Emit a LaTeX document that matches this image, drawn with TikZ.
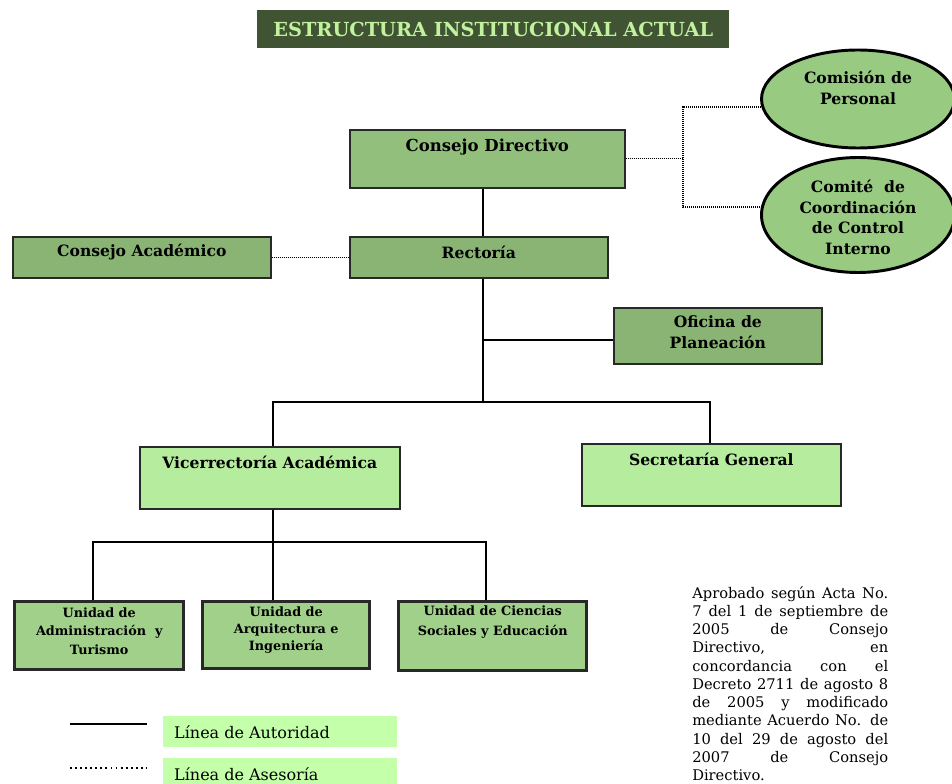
\documentclass[tikz,border=0pt]{standalone}
\usepackage{fontspec}
\setmainfont{DejaVu Serif}
\usetikzlibrary{shapes.geometric}
\definecolor{titlebg}{RGB}{64,84,52}
\definecolor{titlefg}{RGB}{194,242,158}
\definecolor{cdfill}{RGB}{146,192,124}
\definecolor{midfill}{RGB}{138,180,116}
\definecolor{ellfill}{RGB}{152,202,130}
\definecolor{lightfill}{RGB}{182,236,158}
\definecolor{unitfill}{RGB}{160,208,138}
\definecolor{legfill}{RGB}{196,255,170}
\definecolor{edge}{RGB}{40,40,40}
\hbadness=10000
\begin{document}
\begin{tikzpicture}[x=0.75pt,y=-0.75pt,
  orgbox/.style={draw=edge, line width=1.2pt, anchor=north west, inner sep=0pt},
  unitbox/.style={draw=edge, line width=2.6pt, fill=unitfill, anchor=north west, inner sep=0pt},
  oval/.style={ellipse, draw=black, line width=2.2pt, fill=ellfill, inner sep=0pt},
  boxtxt/.style={font=\bfseries\fontsize{11.7}{15.5}\selectfont, align=center, anchor=center, inner sep=0pt},
  unittxt/.style={font=\bfseries\fontsize{9.6}{14.2}\selectfont, align=center, anchor=center, inner sep=0pt},
  legtxt/.style={font=\fontsize{12}{14}\selectfont, anchor=west, inner sep=0pt},
  authority/.style={draw=black, line width=1.1pt},
  advice/.style={draw=black, line width=0.8pt, dash pattern=on 0.8pt off 0.7pt},
]
\useasboundingbox (0,0) rectangle (952,784);

% title
\node[fill=titlebg, anchor=north west, minimum width=472*0.75pt, minimum height=38*0.75pt, inner sep=0pt,
      text=titlefg, font=\bfseries\fontsize{14.5}{16}\selectfont] (title) at (257,10) {ESTRUCTURA INSTITUCIONAL ACTUAL};

% boxes
\node[orgbox, fill=cdfill, minimum width=275*0.75pt, minimum height=58*0.75pt,
      label={[boxtxt, font=\bfseries\fontsize{12.4}{15.5}\selectfont, yshift=-13.7pt]north:Consejo Directivo}] (cd) at (349,129) {};
\node[orgbox, fill=midfill, minimum width=258*0.75pt, minimum height=41*0.75pt,
      label={[boxtxt, yshift=-12pt]north:Consejo Académico}] (ca) at (12,236) {};
\node[orgbox, fill=midfill, minimum width=258*0.75pt, minimum height=41*0.75pt,
      label={[boxtxt, yshift=-12pt]north:Rectoría}] (rect) at (349,236) {};
\node[orgbox, fill=midfill, minimum width=208*0.75pt, minimum height=56*0.75pt,
      label={[boxtxt, yshift=-19.1pt]north:Oficina de\\Planeación}] (ofi) at (613,307) {};
\node[orgbox, fill=lightfill, minimum width=260*0.75pt, minimum height=62*0.75pt,
      label={[boxtxt, yshift=-12pt]north:Vicerrectoría Académica}] (vic) at (139,446) {};
\node[orgbox, fill=lightfill, minimum width=259*0.75pt, minimum height=62*0.75pt,
      label={[boxtxt, yshift=-12pt]north:Secretaría General}] (sec) at (581,443) {};
\node[unitbox, minimum width=169*0.75pt, minimum height=68*0.75pt,
      label={[unittxt, font=\bfseries\fontsize{9.6}{13.8}\selectfont, yshift=-23.2pt]north:Unidad de\\Administración~ y\\Turismo}] (ua) at (13,600) {};
\node[unitbox, minimum width=167*0.75pt, minimum height=67*0.75pt,
      label={[unittxt, font=\bfseries\fontsize{9.6}{12.8}\selectfont, yshift=-22.4pt]north:Unidad de\\Arquitectura e\\Ingeniería}] (uarq) at (201,600) {};
\node[unitbox, minimum width=188*0.75pt, minimum height=69*0.75pt,
      label={[unittxt, font=\bfseries\fontsize{9.6}{15}\selectfont, yshift=-16.8pt]north:Unidad de Ciencias\\Sociales y Educación}] (ucs) at (397,600) {};

% ellipses
\node[oval, minimum width=193*0.75pt, minimum height=98*0.75pt,
      label={[boxtxt, yshift=-29.6pt]north:Comisión de\\Personal}] (com) at (858,99) {};
\node[oval, minimum width=193*0.75pt, minimum height=115*0.75pt,
      label={[boxtxt, yshift=-46.1pt]north:Comité~ de\\Coordinación\\de Control\\Interno}] (comite) at (858,215) {};

% authority lines
\coordinate (vtrunk) at (483,402);
\coordinate (ofij) at (483,340);
\coordinate (hl) at (273,402);
\coordinate (hr) at (710,402);
\coordinate (ll) at (93,542);
\coordinate (lm) at (273,542);
\coordinate (lr) at (486,542);
\draw[authority] (cd.south -| vtrunk) -- (rect.north -| vtrunk);
\draw[authority] (rect.south -| vtrunk) -- (vtrunk);
\draw[authority] (ofij) -- (ofij -| ofi.west);
\draw[authority] (vic.north -| hl) -- (hl) -- (hr) -- (sec.north -| hr);
\draw[authority] (vic.south -| lm) -- (uarq.north -| lm);
\draw[authority] (ua.north -| ll) -- (ll) -- (lr) -- (ucs.north -| lr);

% advisory lines
\coordinate (dj) at (683,158);
\coordinate (dt) at (683,107);
\coordinate (db) at (683,207);
\draw[advice] (cd.east) -- (cd.east -| dj);
\draw[advice] (comite.west |- db) -- (db) -- (dt) -- (com.west |- dt);
\draw[advice] (ca.east) -- (rect.west);

% note
\node[anchor=north west, text width=147pt, align=justify, inner sep=0pt,
      font=\fontsize{11}{13.7}\selectfont] (note) at (692,586)
{Aprobado según Acta No.\linebreak
7 del 1 de septiembre de\linebreak
2005 de Consejo\linebreak
Directivo, en\linebreak
concordancia con el\linebreak
Decreto 2711 de agosto 8\linebreak
de 2005 y modificado\linebreak
mediante Acuerdo No. de\linebreak
10 del 29 de agosto del\linebreak
2007 de Consejo\linebreak
Directivo.};

% legend
\coordinate (la1) at (70,724);
\coordinate (la2) at (147,724);
\coordinate (lb1) at (70,768);
\coordinate (lb2) at (147,768);
\draw[line width=2.2pt] (la1) -- (la2);
\draw[line width=1.4pt, dash pattern=on 1.4pt off 2.4pt] (lb1) -- (lb2);
\node[fill=legfill, anchor=north west, minimum width=234*0.75pt, minimum height=31*0.75pt, inner sep=0pt,
      label={[legtxt, xshift=8.2pt]west:Línea de Autoridad}] (lega) at (163,716) {};
\node[fill=legfill, anchor=north west, minimum width=234*0.75pt, minimum height=31*0.75pt, inner sep=0pt,
      label={[legtxt, xshift=8.2pt]west:Línea de Asesoría}] (legb) at (163,758) {};
\end{tikzpicture}
\end{document}
